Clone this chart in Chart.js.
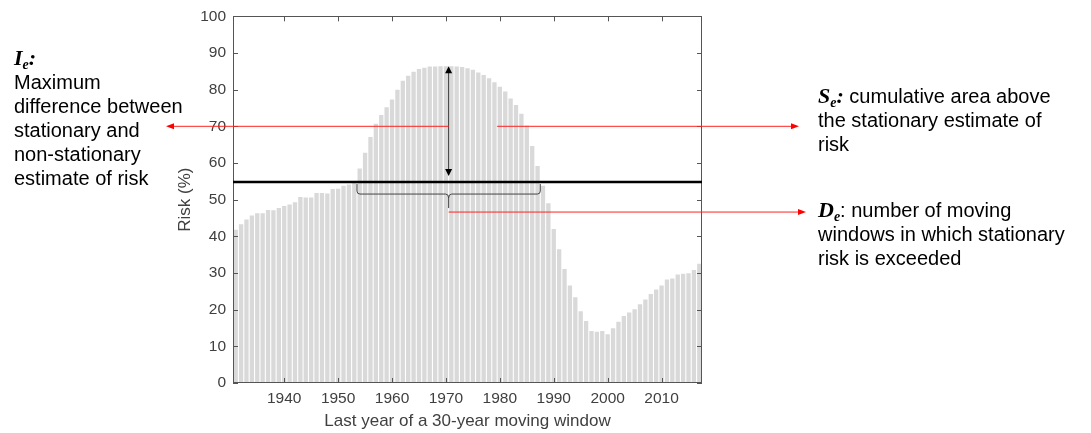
<!DOCTYPE html>
<html><head><meta charset="utf-8">
<script src="https://cdn.jsdelivr.net/npm/chart.js@4.4.1/dist/chart.umd.min.js"></script>
<style>
html,body{margin:0;padding:0;background:#fff;}
#wrap{position:relative;width:1091px;height:433px;overflow:hidden;background:#fff;}
#c{position:absolute;left:0;top:0;}
.note{position:absolute;font-family:"Liberation Sans",Arial,sans-serif;font-size:20px;line-height:24px;color:#000;white-space:nowrap;}
.m{font-family:"Liberation Serif","DejaVu Serif",serif;font-weight:bold;font-style:italic;font-size:22px;}
.m sub{font-size:14px;vertical-align:-4px;line-height:0;}
</style></head>
<body>
<div id="wrap">
<canvas id="c" width="1091" height="433"></canvas>
<div class="note" style="left:14px;top:46px"><span class="m">I<sub>e</sub>:</span></div>
<div class="note" style="left:14px;top:70px">Maximum</div>
<div class="note" style="left:14px;top:94px">difference between</div>
<div class="note" style="left:14px;top:118px">stationary and</div>
<div class="note" style="left:14px;top:142px">non-stationary</div>
<div class="note" style="left:14px;top:166px">estimate of risk</div>
<div class="note" style="left:818px;top:84px"><span class="m">S<sub>e</sub>:</span> cumulative area above</div>
<div class="note" style="left:818px;top:108px">the stationary estimate of</div>
<div class="note" style="left:818px;top:132px">risk</div>
<div class="note" style="left:818px;top:198px"><span class="m">D<sub>e</sub></span>: number of moving</div>
<div class="note" style="left:818px;top:222px">windows in which stationary</div>
<div class="note" style="left:818px;top:246px">risk is exceeded</div>
</div>
<script>
// ---- data ----
const years = [];
for (let yr = 1931; yr <= 2017; yr++) years.push(yr);
const riskValues = [
  41.8, 43.3, 44.6, 45.7, 46.3, 46.3, 47.2, 47.1, 47.7, 48.3,   // 1931-1940
  48.7, 49.3, 50.7, 50.6, 50.6, 51.8, 51.8, 51.7, 52.9, 53.0,   // 1941-1950
  53.8, 54.1, 54.7, 58.5, 62.8, 67.1, 70.7, 73.1, 75.2, 77.3,   // 1951-1960
  80.0, 82.4, 83.8, 84.9, 85.6, 86.0, 86.3, 86.3, 86.4, 86.4,   // 1961-1970
  86.4, 86.3, 86.2, 85.8, 85.4, 84.7, 84.0, 83.1, 82.0, 80.8,   // 1971-1980
  79.5, 77.6, 75.8, 73.4, 70.2, 64.6, 59.2, 53.8, 49.0, 42.0,   // 1981-1990
  36.5, 31.1, 26.6, 23.4, 19.6, 16.9, 14.2, 14.0, 14.2, 13.3,   // 1991-2000
  14.9, 16.7, 18.3, 19.2, 20.1, 21.5, 22.8, 24.3, 25.5, 26.6,   // 2001-2010
  28.2, 28.5, 29.6, 29.8, 29.9, 30.8, 32.5                      // 2011-2017
];
const stationaryRisk = 54.8;
const annotationLevel = 70;
const yTickValues = [0, 10, 20, 30, 40, 50, 60, 70, 80, 90, 100];
const exceedStartYear = 1954, exceedEndYear = 1987, maxDiffYear = 1970.5, seStartYear = 1979.5;

const FONT = '"Liberation Sans", Arial, sans-serif';
const idxOf = (yr) => yr - years[0];

function arrowHead(ctx, x, y, dir, len, half) {
  ctx.beginPath();
  if (dir === 'left') { ctx.moveTo(x, y); ctx.lineTo(x + len, y - half); ctx.lineTo(x + len, y + half); }
  else if (dir === 'right') { ctx.moveTo(x, y); ctx.lineTo(x - len, y - half); ctx.lineTo(x - len, y + half); }
  else if (dir === 'up') { ctx.moveTo(x, y); ctx.lineTo(x - half, y + len); ctx.lineTo(x + half, y + len); }
  else { ctx.moveTo(x, y); ctx.lineTo(x - half, y - len); ctx.lineTo(x + half, y - len); }
  ctx.closePath(); ctx.fill();
}
function seg(ctx, x1, y1, x2, y2) { ctx.beginPath(); ctx.moveTo(x1, y1); ctx.lineTo(x2, y2); ctx.stroke(); }

const overlay = {
  id: 'overlay',
  afterDatasetsDraw(chart) {
    const { ctx, chartArea: a, scales: { x, y } } = chart;
    ctx.save();
    // axes box
    ctx.strokeStyle = '#555'; ctx.lineWidth = 1;
    ctx.strokeRect(Math.round(a.left) + 0.5, Math.round(a.top) + 0.5, Math.round(a.width) - 1, Math.round(a.height) - 1);
    // inward ticks
    yTickValues.forEach(v => {
      const py = Math.round(y.getPixelForValue(v)) + 0.5;
      seg(ctx, a.left, py, a.left + 5, py);
      seg(ctx, a.right - 5, py, a.right, py);
    });
    years.forEach((yr, i) => {
      if (yr % 10 !== 0) return;
      const px = Math.round(x.getPixelForValue(i)) + 0.5;
      seg(ctx, px, a.bottom, px, a.bottom - 5);
      seg(ctx, px, a.top, px, a.top + 5);
    });
    // stationary estimate line
    const ys = y.getPixelForValue(stationaryRisk);
    ctx.strokeStyle = '#000'; ctx.lineWidth = 2.6;
    seg(ctx, a.left, ys, a.right, ys);

    const xm = x.getPixelForValue(idxOf(maxDiffYear));
    // double arrow (I_e)
    const peak = Math.max(...riskValues);
    const yTop = y.getPixelForValue(peak), yBot = ys - 6;
    ctx.strokeStyle = '#333'; ctx.lineWidth = 1; ctx.fillStyle = '#000';
    seg(ctx, xm, yTop + 4, xm, yBot - 4);
    arrowHead(ctx, xm, yTop, 'up', 7, 3.5);
    arrowHead(ctx, xm, yBot, 'down', 7, 3.5);

    // bracket (D_e)
    const x1 = x.getPixelForValue(idxOf(exceedStartYear) - 0.5);
    const x2 = x.getPixelForValue(idxOf(exceedEndYear) + 0.5);
    const y0 = ys + 2, y1 = ys + 12, yt = ys + 26;
    ctx.strokeStyle = '#444'; ctx.lineWidth = 1;
    ctx.beginPath();
    ctx.moveTo(x1, y0); ctx.lineTo(x1, y1 - 3); ctx.quadraticCurveTo(x1, y1, x1 + 3, y1);
    ctx.lineTo(xm - 3, y1); ctx.quadraticCurveTo(xm, y1, xm, y1 + 4); ctx.lineTo(xm, yt);
    ctx.moveTo(xm, y1 + 4); ctx.quadraticCurveTo(xm, y1, xm + 3, y1);
    ctx.lineTo(x2 - 3, y1); ctx.quadraticCurveTo(x2, y1, x2, y1 - 3); ctx.lineTo(x2, y0);
    ctx.stroke();

    // red arrows
    const yr70 = y.getPixelForValue(annotationLevel);
    ctx.strokeStyle = '#f22'; ctx.fillStyle = '#f00'; ctx.lineWidth = 1;
    seg(ctx, xm, yr70, 172, yr70);
    arrowHead(ctx, 166, yr70, 'left', 8, 3);
    const xs = x.getPixelForValue(idxOf(seStartYear));
    seg(ctx, xs, yr70, 792, yr70);
    arrowHead(ctx, 799, yr70, 'right', 8, 3);
    const yd = yt + 4;
    seg(ctx, xm, yd, 798, yd);
    arrowHead(ctx, 806, yd, 'right', 8, 3);
    ctx.restore();
  }
};

new Chart(document.getElementById('c'), {
  type: 'bar',
  data: {
    labels: years,
    datasets: [{
      data: riskValues,
      backgroundColor: '#d9d9d9',
      borderWidth: 0,
      barPercentage: 0.8,
      categoryPercentage: 1.0
    }]
  },
  options: {
    responsive: false,
    animation: false,
    devicePixelRatio: 1,
    layout: { padding: { left: 171, right: 389, top: 13.5, bottom: 0 } },
    plugins: { legend: { display: false }, tooltip: { enabled: false } },
    scales: {
      x: {
        type: 'category',
        offset: true,
        grid: { display: false, drawTicks: false },
        border: { display: false },
        ticks: {
          autoSkip: false, maxRotation: 0, minRotation: 0, padding: 6,
          color: '#404040', font: { family: FONT, size: 15.5 },
          callback: function (v, i) { const yr = years[i]; return yr % 10 === 0 ? String(yr) : ''; }
        },
        title: { display: true, text: 'Last year of a 30-year moving window', color: '#404040', font: { family: FONT, size: 17 }, padding: { top: 2, bottom: 1 } },
        afterFit(s) { s.height = 50; }
      },
      y: {
        min: 0, max: 100,
        grid: { display: false, drawTicks: false },
        border: { display: false },
        ticks: { stepSize: 10, padding: 7, color: '#404040', font: { family: FONT, size: 15.5 } },
        title: { display: true, text: 'Risk (%)', color: '#404040', font: { family: FONT, size: 17 }, padding: { top: 4, bottom: 4 } },
        afterFit(s) { s.width = 62; }
      }
    }
  },
  plugins: [overlay]
});
</script>
</body></html>
